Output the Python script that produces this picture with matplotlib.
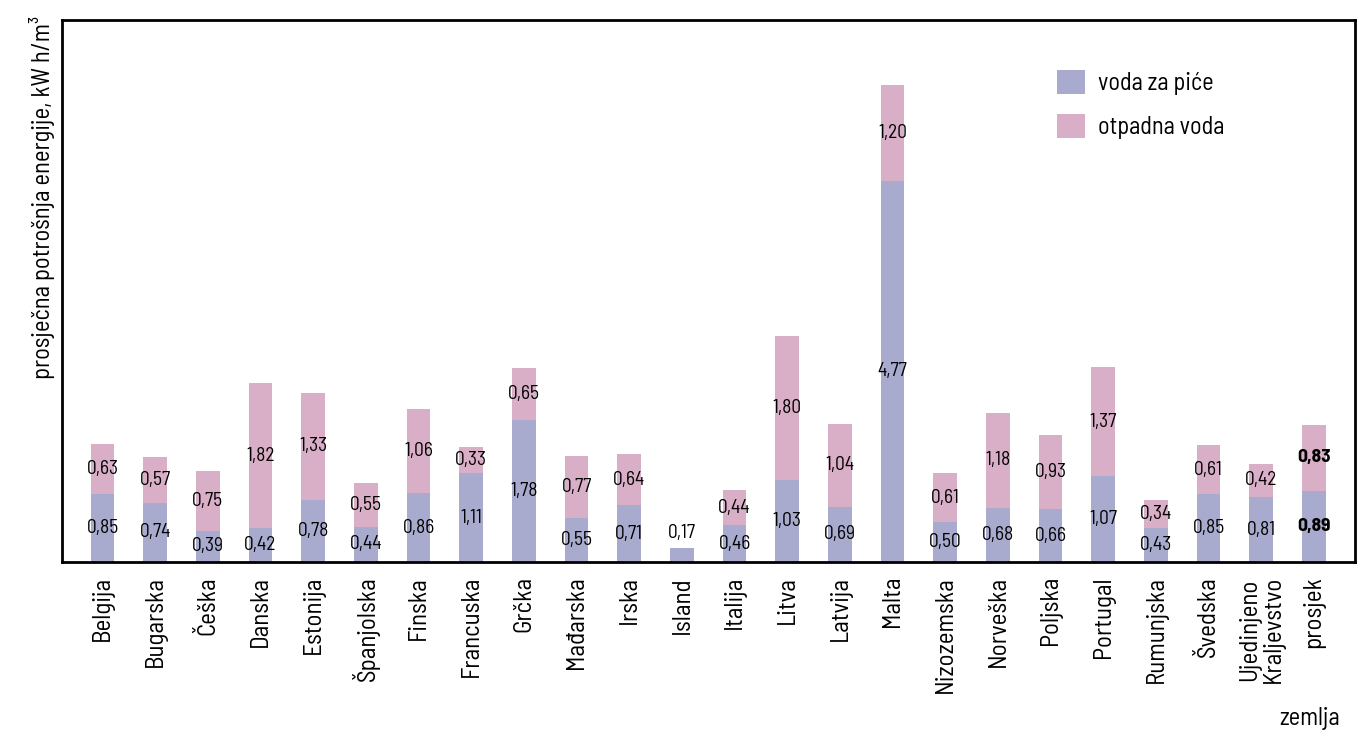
import matplotlib.pyplot as plt
import numpy as np

plt.rcParams['font.family'] = ['Barlow Semi Condensed', 'DejaVu Sans']

zemlje = ["Belgija", "Bugarska", "Češka", "Danska", "Estonija", "Španjolska",
          "Finska", "Francuska", "Grčka", "Mađarska", "Irska", "Island",
          "Italija", "Litva", "Latvija", "Malta", "Nizozemska", "Norveška",
          "Poljska", "Portugal", "Rumunjska", "Švedska",
          "Ujedinjeno\nKraljevstvo", "prosjek"]
voda_za_pice = [0.85, 0.74, 0.39, 0.42, 0.78, 0.44, 0.86, 1.11, 1.78, 0.55,
                0.71, 0.17, 0.46, 1.03, 0.69, 4.77, 0.50, 0.68, 0.66, 1.07,
                0.43, 0.85, 0.81, 0.89]
otpadna_voda = [0.63, 0.57, 0.75, 1.82, 1.33, 0.55, 1.06, 0.33, 0.65, 0.77,
                0.64, 0.0, 0.44, 1.80, 1.04, 1.20, 0.61, 1.18, 0.93, 1.37,
                0.34, 0.61, 0.42, 0.83]

plava = "#a8abce"
roza = "#d8afc6"

fig = plt.figure(figsize=(13.68, 7.48), dpi=100)
ax = fig.add_axes([62 / 1368, 1 - 562 / 748, (1355 - 62) / 1368, (562 - 20) / 748])

x = np.arange(len(zemlje))
w = 0.45
ax.bar(x, voda_za_pice, w, color=plava, label="voda za piće")
ax.bar(x, otpadna_voda, w, bottom=voda_za_pice, color=roza, label="otpadna voda")

def fmt(v):
    return f"{v:.2f}".replace(".", ",")

for i in range(len(zemlje)):
    b = voda_za_pice[i]
    p = otpadna_voda[i]
    tezina = "bold" if zemlje[i] == "prosjek" else "normal"
    if p == 0:
        ax.text(x[i], b + 0.08, fmt(b), ha="center", va="bottom", fontsize=14, fontweight=tezina)
        continue
    ax.text(x[i], b / 2, fmt(b), ha="center", va="center", fontsize=14, fontweight=tezina)
    ax.text(x[i], b + p / 2, fmt(p), ha="center", va="center", fontsize=14, fontweight=tezina)

ax.set_xlim(-0.77, 23.78)
ax.set_ylim(0, 6.78)
ax.set_xticks(x)
ax.set_xticklabels(zemlje, rotation=90, fontsize=18, va="top", linespacing=1.05)
ax.tick_params(axis="x", length=0, pad=10)
ax.set_yticks([])
for s in ax.spines.values():
    s.set_linewidth(2)

fig.text(42 / 1368, 1 - 16 / 748, "prosječna potrošnja energije, kW h/m³", rotation=90,
         ha="center", va="top", fontsize=17.7)
fig.text(1310 / 1368, 1 - 718 / 748, "zemlja", ha="center", va="center", fontsize=17.5)

ax.legend(loc="upper left", bbox_to_anchor=((1057 - 62) / 1293, (562 - 70) / 542),
          frameon=False, fontsize=17.5, borderpad=0, borderaxespad=0,
          handlelength=1.15, handleheight=1.15, labelspacing=0.75, handletextpad=0.55)

fig.savefig("out.png", dpi=100)
